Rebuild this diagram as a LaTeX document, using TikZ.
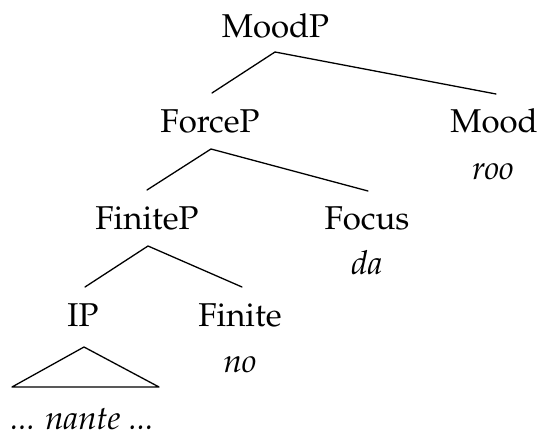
\documentclass[tikz,border=0pt]{standalone}
\usepackage[T1]{fontenc}
\usepackage{mathpazo}
\begin{document}
\begin{tikzpicture}[x=1pt,y=-1pt,
  lbl/.style={anchor=base,inner sep=0pt,font=\fontsize{33}{40}\selectfont},
  wd/.style={lbl,font=\fontsize{33}{40}\selectfont\itshape},
  br/.style={line width=1.3pt,line cap=round,line join=round}]
\useasboundingbox (0,0) rectangle (540,435);
\node[lbl] (moodp) at (275.5,38) {MoodP};
\node[lbl] (forcep) at (210,133) {ForceP};
\node[lbl] (mood) at (494,133) {Mood};
\node[wd] (roo) at (493,180) {roo};
\node[lbl] (finitep) at (147,230) {FiniteP};
\node[lbl] (focus) at (367,230) {Focus};
\node[wd] (da) at (367,275) {da};
\node[lbl] (ip) at (83,326) {IP};
\node[lbl] (finite) at (240,326) {Finite};
\node[wd] (no) at (240,372) {no};
\node[wd] (nante) at (82,429) {... nante ...};
\coordinate (a1) at (275,52);
\coordinate (a1l) at (212,93);
\coordinate (a1r) at (496,94);
\coordinate (a2) at (211,149);
\coordinate (a2l) at (147,190);
\coordinate (a2r) at (368,191);
\coordinate (a3) at (148,246);
\coordinate (a3l) at (85,287);
\coordinate (a3r) at (242,287);
\coordinate (t1) at (84,347);
\coordinate (t2) at (12,387);
\coordinate (t3) at (159,387);
\draw[br] (a1l) -- (a1) -- (a1r);
\draw[br] (a2l) -- (a2) -- (a2r);
\draw[br] (a3l) -- (a3) -- (a3r);
\draw[br] (t1) -- (t2) -- (t3) -- cycle;
\end{tikzpicture}
\end{document}
